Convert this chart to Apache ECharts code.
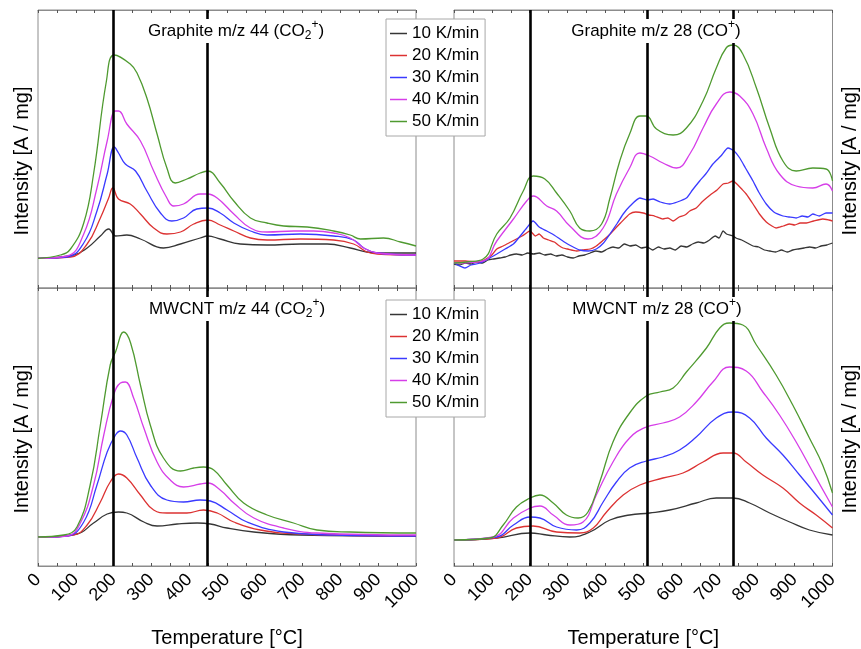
<!DOCTYPE html>
<html>
<head>
<meta charset="utf-8">
<script src="https://cdn.jsdelivr.net/npm/echarts@6/dist/echarts.min.js"></script>
<style>
html,body{margin:0;padding:0;background:#fff;}
#chart{width:861px;height:649px;}
</style>
</head>
<body>
<div id="chart"></div>
<script>
// Legend / series names
const rateNames = ['10 K/min', '20 K/min', '30 K/min', '40 K/min', '50 K/min'];
const rateColors = ['#363636', '#dc3232', '#3a3aff', '#d63ee8', '#4f9a30'];
const xTicks = [0, 100, 200, 300, 400, 500, 600, 700, 800, 900, 1000];
const peakLinesLeft = [200, 448];
const peakLinesRight = [202, 510, 738];

// Graphite m/z 44 (CO2+)   [temperature, intensity (arb.)]
const gr44_10 = [[0,29.7],[94,33],[130,40],[165,52],[187,59],[205,52],[235,53],[271,49],[332,40],[377,44],[429,50],[449,52],[482,49],[535,44],[606,43],[694,44],[765,44],[826,40],[870,36],[914,35],[1000,35]];
const gr44_20 = [[0,29.7],[86,31],[130,44],[165,70],[187,90],[198,100],[213,89],[244,84],[271,74],[306,60],[341,54],[377,56],[412,64],[449,68],[482,63],[518,57],[562,50],[606,48],[694,49],[782,48],[835,44],[870,36],[897,34],[1000,33]];
const gr44_30 = [[0,29.7],[77,31],[121,45],[156,77],[183,114],[202,141],[213,135],[231,124],[258,117],[288,97],[324,75],[354,67],[385,70],[420,79],[449,80],[482,75],[518,65],[562,57],[606,53],[694,54],[782,52],[835,48],[862,40],[897,35],[1000,33]];
const gr44_40 = [[0,29.7],[77,32],[121,54],[156,100],[183,147],[205,177],[213,177],[235,164],[271,147],[306,117],[341,90],[359,82],[385,84],[429,94],[449,94],[474,90],[518,74],[562,60],[606,56],[677,57],[729,57],[782,55],[826,50],[862,40],[897,35],[1000,33]];
const gr44_50 = [[0,29.7],[59,33],[86,39],[121,65],[147,114],[181,207],[202,233],[244,224],[262,215],[288,190],[315,154],[341,120],[363,105],[394,109],[429,115],[449,117],[482,105],[518,87],[562,70],[606,65],[650,62],[712,61],[782,57],[826,53],[853,49],[914,50],[959,46],[1000,42]];

// Graphite m/z 28 (CO+)
const gr28_10 = [[0,24],[15,23],[30,25],[45,24],[60,26],[75,25],[90,28],[105,29],[120,30],[135,31],[150,33],[165,34],[180,33],[195,35],[210,34],[225,35],[240,33],[255,34],[270,32],[285,33],[300,31],[315,30],[330,32],[345,33],[360,35],[375,37],[390,36],[405,39],[420,41],[435,40],[450,44],[465,42],[480,43],[495,40],[510,41],[525,38],[540,41],[555,39],[570,40],[585,38],[600,42],[615,41],[630,44],[645,46],[660,45],[675,48],[690,52],[700,50],[711,57],[720,54],[737,52],[745,50],[760,48],[775,45],[790,42],[805,41],[820,38],[835,37],[850,36],[865,38],[880,36],[895,38],[910,39],[925,40],[940,41],[955,40],[970,42],[985,43],[1000,45]];
const gr28_20 = [[0,27],[30,27],[60,26],[80,28],[100,33],[113,39],[130,42],[150,46],[165,49],[180,52],[195,56],[201,57],[215,52],[225,54],[236,50],[250,48],[265,46],[275,43],[288,40],[300,39],[324,37],[340,38],[360,39],[376,42],[395,48],[410,53],[420,57],[440,65],[464,74],[480,76],[500,75],[515,73],[530,72],[552,69],[565,70],[579,67],[595,71],[610,73],[623,77],[640,80],[655,86],[667,90],[680,94],[695,98],[711,104],[725,105],[737,107],[750,103],[760,99],[772,94],[790,84],[807,74],[825,66],[840,62],[851,60],[870,62],[887,64],[900,63],[915,65],[931,65],[950,67],[974,69],[990,68],[1000,67]];
const gr28_30 = [[0,25],[15,22],[29,20],[45,23],[69,25],[90,29],[113,34],[135,39],[157,44],[175,52],[192,60],[209,67],[225,61],[245,57],[260,54],[280,49],[300,44],[315,41],[332,38],[355,37],[376,39],[395,45],[412,54],[430,64],[447,74],[465,82],[491,90],[510,88],[526,89],[545,86],[570,84],[590,86],[614,90],[630,98],[649,107],[665,114],[684,124],[705,132],[724,140],[740,137],[755,130],[770,120],[790,107],[805,96],[825,84],[845,76],[869,72],[885,71],[904,70],[920,72],[935,71],[948,74],[965,72],[983,75],[1000,75]];
const gr28_40 = [[0,25],[77,27],[113,47],[157,69],[192,87],[209,92],[245,82],[271,77],[306,62],[354,49],[394,60],[429,94],[464,120],[491,135],[517,132],[552,125],[588,120],[623,134],[658,160],[693,184],[728,196],[755,192],[790,174],[825,140],[860,114],[904,102],[948,100],[983,104],[1000,97]];
const gr28_50 = [[0,25],[33,26],[77,29],[113,54],[148,70],[183,97],[209,112],[240,109],[271,95],[306,77],[332,60],[359,57],[390,64],[412,90],[438,127],[464,154],[491,172],[508,172],[535,159],[579,153],[614,160],[658,187],[693,220],[719,240],[737,243],[763,234],[799,200],[834,160],[869,127],[904,117],[948,120],[983,119],[1000,107]];

// MWCNT m/z 44 (CO2+)
const mw44_10 = [[0,28.7],[103,32],[147,43],[183,52],[213,54],[235,53],[280,44],[315,40],[368,42],[421,43],[456,42],[500,38],[571,34],[694,31],[1000,30]];
const mw44_20 = [[0,28.7],[94,31],[130,41],[165,64],[191,84],[213,92],[235,88],[271,71],[306,56],[341,53],[394,53],[438,56],[474,53],[518,44],[588,36],[694,32],[1000,30]];
const mw44_30 = [[0,28.7],[77,30],[121,44],[156,81],[183,114],[205,131],[218,135],[235,131],[262,108],[297,81],[341,66],[385,64],[429,66],[456,65],[500,56],[553,44],[650,34],[782,31],[1000,30]];
const mw44_40 = [[0,28.7],[77,30],[112,43],[147,81],[174,131],[200,171],[218,183],[231,184],[253,168],[280,138],[315,104],[350,86],[385,79],[429,82],[449,83],[482,76],[518,63],[571,48],[650,38],[738,33],[1000,31]];
const mw44_50 = [[0,29],[68,31],[103,39],[138,81],[165,141],[191,201],[205,214],[227,234],[245,223],[271,181],[297,141],[332,108],[377,95],[412,98],[438,99],[465,96],[500,81],[544,63],[606,51],[676,43],[738,36],[826,34],[1000,33]];

// MWCNT m/z 28 (CO+)
const mw28_10 = [[0,26],[113,28],[201,33],[245,31],[306,29],[359,34],[412,46],[464,51],[517,53],[570,56],[640,63],[693,68],[737,68],[781,63],[834,53],[887,44],[939,36],[1000,31]];
const mw28_20 = [[0,26],[113,28],[165,38],[209,40],[271,34],[332,33],[368,38],[403,54],[447,71],[491,81],[552,88],[605,93],[658,104],[711,113],[737,113],[772,104],[816,91],[869,78],[913,63],[957,51],[1000,38]];
const mw28_30 = [[0,26],[113,29],[157,41],[201,49],[227,48],[271,39],[324,36],[359,43],[394,64],[429,84],[464,98],[508,105],[552,109],[596,116],[640,129],[693,148],[737,154],[781,148],[825,128],[869,111],[913,91],[957,71],[1000,51]];
const mw28_40 = [[0,26],[104,29],[157,48],[201,58],[227,60],[262,51],[306,41],[341,44],[376,71],[420,104],[464,128],[508,139],[552,143],[596,149],[640,164],[684,184],[728,199],[772,195],[816,174],[860,151],[904,124],[948,94],[1000,59]];
const mw28_50 = [[0,26],[95,28],[130,41],[165,59],[201,68],[227,71],[262,63],[297,51],[328,48],[354,54],[385,84],[420,124],[464,153],[508,170],[544,174],[579,178],[614,194],[667,218],[702,238],[728,243],[763,241],[799,221],[851,191],[895,161],[939,128],[974,101],[1000,73]];

const panelData = [
  [gr44_10, gr44_20, gr44_30, gr44_40, gr44_50],
  [gr28_10, gr28_20, gr28_30, gr28_40, gr28_50],
  [mw44_10, mw44_20, mw44_30, mw44_40, mw44_50],
  [mw28_10, mw28_20, mw28_30, mw28_40, mw28_50]
];
const panelLines = [peakLinesLeft, peakLinesRight, peakLinesLeft, peakLinesRight];

const FONT = 'Liberation Sans, Arial, Helvetica, sans-serif';
const frameColor = '#8c8c8c';

const grids = [
  {left: 38, top: 10, width: 378, height: 278},
  {left: 454, top: 10, width: 378.5, height: 278},
  {left: 38, top: 288, width: 378, height: 278},
  {left: 454, top: 288, width: 378.5, height: 278}
].map(g => Object.assign(g, {show: true, borderColor: frameColor, borderWidth: 1, backgroundColor: 'transparent',
  containLabel: false, outerBoundsMode: 'none'}));

const xAxes = [];
const yAxes = [];
for (let i = 0; i < 4; i++) {
  const isBottom = i >= 2;
  xAxes.push({
    type: 'value', gridIndex: i, min: 0, max: 1000, interval: 100, position: 'bottom',
    axisLine: {show: true, lineStyle: {color: frameColor, width: 1}},
    axisTick: {show: true, inside: true, length: 3, lineStyle: {color: '#555'}},
    minorTick: {show: true, splitNumber: 2, length: 3, lineStyle: {color: '#555'}},
    splitLine: {show: false},
    axisLabel: {show: isBottom, rotate: 45, margin: 11, fontSize: 18, color: '#000', fontFamily: FONT,
      formatter: v => String(v)},
    name: isBottom ? 'Temperature [°C]' : '',
    nameLocation: 'middle', nameGap: 62,
    nameTextStyle: {fontSize: 20, color: '#000', fontFamily: FONT}
  });
  xAxes.push({
    type: 'value', gridIndex: i, min: 0, max: 1000, interval: 100, position: 'top',
    axisLine: {show: true, lineStyle: {color: frameColor, width: 1}},
    axisTick: {show: true, inside: true, length: 3, lineStyle: {color: '#555'}},
    minorTick: {show: true, splitNumber: 2, length: 3, lineStyle: {color: '#555'}},
    splitLine: {show: false},
    axisLabel: {show: false}
  });
  const isRight = i % 2 === 1;
  yAxes.push({
    type: 'value', gridIndex: i, min: 0, max: 278, position: isRight ? 'right' : 'left',
    axisLine: {show: false}, axisTick: {show: false}, axisLabel: {show: false}, splitLine: {show: false},
    name: 'Intensity [A / mg]', nameLocation: 'middle', nameRotate: 90,
    nameGap: isRight ? 8 : 6,
    nameTextStyle: {fontSize: 20, color: '#000', fontFamily: FONT, padding: [0, 24, 0, 0]}
  });
}

const noisyPanels = {1: true};
const series = [];
for (let p = 0; p < 4; p++) {
  for (let s = 0; s < 5; s++) {
    const ser = {
      type: 'line', name: rateNames[s], xAxisIndex: p * 2, yAxisIndex: p,
      data: panelData[p][s], showSymbol: false, symbol: 'none',
      smooth: (noisyPanels[p] && s < 3) ? 0.2 : 0.45,
      lineStyle: {color: rateColors[s], width: 1.3}, itemStyle: {color: rateColors[s]},
      animation: false, z: 3
    };
    if (s === 0) {
      ser.markLine = {
        silent: true, symbol: 'none', animation: false,
        label: {show: false},
        lineStyle: {color: '#000', width: 2.6, type: 'solid'},
        data: panelLines[p].map(v => ({xAxis: v}))
      };
    }
    series.push(ser);
  }
}

const legendCommon = {
  orient: 'vertical', left: 386, data: rateNames,
  icon: 'rect', itemWidth: 17, itemHeight: 1.5, itemGap: 5, itemTextGap: 5,
  padding: [6, 6, 6, 4],
  backgroundColor: '#fff', borderColor: '#a8a8a8', borderWidth: 1,
  textStyle: {fontSize: 17, color: '#000', fontFamily: FONT},
  selectedMode: false, z: 20
};

const rich = {
  a: {fontSize: 17, fontFamily: FONT, color: '#000', lineHeight: 24},
  sub: {fontSize: 12, fontFamily: FONT, color: '#000', lineHeight: 24, padding: [10, 0, 0, 0]},
  sup: {fontSize: 12, fontFamily: FONT, color: '#000', lineHeight: 24, padding: [0, 0, 12, 0]}
};
function titleText(x, y, str) {
  return {
    type: 'text', x: x, y: y, z: 50,
    style: {
      text: str, rich: rich, fontSize: 17, fontFamily: FONT, fill: '#000',
      align: 'center', verticalAlign: 'middle', textAlign: 'center', textVerticalAlign: 'middle',
      backgroundColor: '#fff', padding: [0, 3, 0, 3]
    }
  };
}

const option = {
  backgroundColor: '#fff',
  animation: false,
  grid: grids,
  xAxis: xAxes,
  yAxis: yAxes,
  legend: [
    Object.assign({}, legendCommon, {top: 19}),
    Object.assign({}, legendCommon, {top: 300})
  ],
  graphic: [
    titleText(236, 31, '{a|Graphite m/z 44 (CO}{sub|2}{sup|+}{a|)}'),
    titleText(656, 31, '{a|Graphite m/z 28 (CO}{sup|+}{a|)}'),
    titleText(237, 309, '{a|MWCNT m/z 44 (CO}{sub|2}{sup|+}{a|)}'),
    titleText(657, 309, '{a|MWCNT m/z 28 (CO}{sup|+}{a|)}')
  ],
  series: series
};

const chart = echarts.init(document.getElementById('chart'), null, {renderer: 'canvas'});
chart.setOption(option);
</script>
</body>
</html>
